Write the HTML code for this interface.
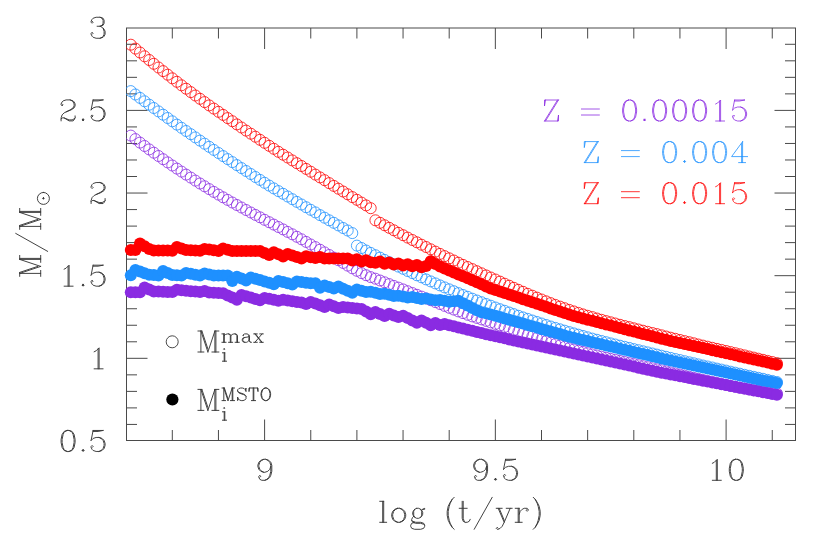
<!DOCTYPE html>
<html><head><meta charset="utf-8"><title>chart</title>
<style>
html,body{margin:0;padding:0;background:#fff;}
body{width:830px;height:550px;overflow:hidden;font-family:"Liberation Serif",serif;}
svg{display:block;}
text{font-family:"Liberation Serif",serif;}
</style></head><body>
<svg width="830" height="550" viewBox="0 0 830 550" role="img" aria-label="M/Msun versus log (t/yr) for Z = 0.00015, 0.004, 0.015">
<desc>Maximum initial mass (open circles) and main-sequence turn-off mass (filled circles) as a function of log (t/yr) for Z = 0.00015, Z = 0.004 and Z = 0.015. Axis labels: M/M(sun), log (t/yr).</desc>
<defs><clipPath id="fc"><rect x="126" y="28" width="670" height="413"/></clipPath></defs>
<rect width="830" height="550" fill="#fff"/>
<rect x="126.5" y="28.0" width="669.0" height="412.5" fill="none" stroke="#4a4a4a" stroke-width="1"/>
<path d="M172.3 440.5v-10.5M172.3 28.0v10.5 M218.45 440.5v-10.5M218.45 28.0v10.5 M264.6 440.5v-21M264.6 28.0v21 M310.75 440.5v-10.5M310.75 28.0v10.5 M356.9 440.5v-10.5M356.9 28.0v10.5 M403.05 440.5v-10.5M403.05 28.0v10.5 M449.2 440.5v-10.5M449.2 28.0v10.5 M495.35 440.5v-21M495.35 28.0v21 M541.5 440.5v-10.5M541.5 28.0v10.5 M587.65 440.5v-10.5M587.65 28.0v10.5 M633.8 440.5v-10.5M633.8 28.0v10.5 M679.95 440.5v-10.5M679.95 28.0v10.5 M726.1 440.5v-21M726.1 28.0v21 M772.25 440.5v-10.5M772.25 28.0v10.5 M126.5 424.43h10.5M795.5 424.43h-10.5 M126.5 407.9h10.5M795.5 407.9h-10.5 M126.5 391.38h10.5M795.5 391.38h-10.5 M126.5 374.85h10.5M795.5 374.85h-10.5 M126.5 358.32h21M795.5 358.32h-21 M126.5 341.79h10.5M795.5 341.79h-10.5 M126.5 325.26h10.5M795.5 325.26h-10.5 M126.5 308.74h10.5M795.5 308.74h-10.5 M126.5 292.21h10.5M795.5 292.21h-10.5 M126.5 275.68h21M795.5 275.68h-21 M126.5 259.15h10.5M795.5 259.15h-10.5 M126.5 242.62h10.5M795.5 242.62h-10.5 M126.5 226.1h10.5M795.5 226.1h-10.5 M126.5 209.57h10.5M795.5 209.57h-10.5 M126.5 193.04h21M795.5 193.04h-21 M126.5 176.51h10.5M795.5 176.51h-10.5 M126.5 159.98h10.5M795.5 159.98h-10.5 M126.5 143.46h10.5M795.5 143.46h-10.5 M126.5 126.93h10.5M795.5 126.93h-10.5 M126.5 110.4h21M795.5 110.4h-21 M126.5 93.87h10.5M795.5 93.87h-10.5 M126.5 77.34h10.5M795.5 77.34h-10.5 M126.5 60.82h10.5M795.5 60.82h-10.5 M126.5 44.29h10.5M795.5 44.29h-10.5" stroke="#4a4a4a" stroke-width="1" fill="none"/>
<g fill="none" stroke="#8a2be2" stroke-width="0.8" clip-path="url(#fc)"><circle cx="130.8" cy="135.6" r="5.5"/><circle cx="135.4" cy="139.1" r="5.5"/><circle cx="140.0" cy="142.6" r="5.5"/><circle cx="144.6" cy="146.0" r="5.5"/><circle cx="149.2" cy="149.4" r="5.5"/><circle cx="153.8" cy="152.7" r="5.5"/><circle cx="158.5" cy="156.0" r="5.5"/><circle cx="163.1" cy="159.2" r="5.5"/><circle cx="167.7" cy="162.4" r="5.5"/><circle cx="172.3" cy="165.5" r="5.5"/><circle cx="176.9" cy="168.6" r="5.5"/><circle cx="181.5" cy="171.6" r="5.5"/><circle cx="186.1" cy="174.6" r="5.5"/><circle cx="190.8" cy="177.6" r="5.5"/><circle cx="195.4" cy="180.6" r="5.5"/><circle cx="200.0" cy="183.5" r="5.5"/><circle cx="204.6" cy="186.3" r="5.5"/><circle cx="209.2" cy="189.1" r="5.5"/><circle cx="213.8" cy="191.9" r="5.5"/><circle cx="218.5" cy="194.6" r="5.5"/><circle cx="223.1" cy="197.3" r="5.5"/><circle cx="227.7" cy="199.9" r="5.5"/><circle cx="232.3" cy="202.5" r="5.5"/><circle cx="236.9" cy="205.0" r="5.5"/><circle cx="241.5" cy="207.5" r="5.5"/><circle cx="246.1" cy="210.0" r="5.5"/><circle cx="250.8" cy="212.5" r="5.5"/><circle cx="255.4" cy="214.9" r="5.5"/><circle cx="260.0" cy="217.3" r="5.5"/><circle cx="264.6" cy="219.8" r="5.5"/><circle cx="269.2" cy="222.2" r="5.5"/><circle cx="273.8" cy="224.6" r="5.5"/><circle cx="278.4" cy="227.0" r="5.5"/><circle cx="283.1" cy="229.4" r="5.5"/><circle cx="287.7" cy="231.9" r="5.5"/><circle cx="292.3" cy="234.3" r="5.5"/><circle cx="296.9" cy="236.8" r="5.5"/><circle cx="301.5" cy="239.3" r="5.5"/><circle cx="306.1" cy="241.9" r="5.5"/><circle cx="310.7" cy="244.5" r="5.5"/><circle cx="315.4" cy="247.1" r="5.5"/><circle cx="320.0" cy="249.7" r="5.5"/><circle cx="324.6" cy="252.4" r="5.5"/><circle cx="329.2" cy="255.0" r="5.5"/><circle cx="333.8" cy="257.6" r="5.5"/><circle cx="338.4" cy="260.2" r="5.5"/><circle cx="343.1" cy="262.9" r="5.5"/><circle cx="347.7" cy="265.6" r="5.5"/><circle cx="352.3" cy="268.3" r="5.5"/><circle cx="356.9" cy="270.8" r="5.5"/><circle cx="361.5" cy="273.1" r="5.5"/><circle cx="366.1" cy="275.2" r="5.5"/><circle cx="370.7" cy="277.1" r="5.5"/><circle cx="375.4" cy="278.7" r="5.5"/><circle cx="380.0" cy="280.5" r="5.5"/><circle cx="384.6" cy="282.3" r="5.5"/><circle cx="389.2" cy="284.1" r="5.5"/><circle cx="393.8" cy="285.9" r="5.5"/><circle cx="398.4" cy="287.6" r="5.5"/><circle cx="403.1" cy="289.4" r="5.5"/><circle cx="407.7" cy="291.2" r="5.5"/><circle cx="412.3" cy="293.0" r="5.5"/><circle cx="416.9" cy="294.8" r="5.5"/><circle cx="421.5" cy="296.6" r="5.5"/><circle cx="426.1" cy="298.4" r="5.5"/><circle cx="430.7" cy="300.2" r="5.5"/><circle cx="435.4" cy="302.1" r="5.5"/><circle cx="440.0" cy="304.0" r="5.5"/><circle cx="444.6" cy="305.9" r="5.5"/><circle cx="449.2" cy="307.8" r="5.5"/><circle cx="453.8" cy="309.6" r="5.5"/><circle cx="458.4" cy="311.4" r="5.5"/><circle cx="463.0" cy="313.1" r="5.5"/><circle cx="467.7" cy="314.8" r="5.5"/><circle cx="472.3" cy="316.4" r="5.5"/><circle cx="476.9" cy="317.9" r="5.5"/><circle cx="481.5" cy="319.4" r="5.5"/><circle cx="486.1" cy="320.9" r="5.5"/><circle cx="490.7" cy="322.4" r="5.5"/><circle cx="495.4" cy="323.9" r="5.5"/><circle cx="500.0" cy="325.4" r="5.5"/><circle cx="504.6" cy="326.9" r="5.5"/><circle cx="509.2" cy="328.5" r="5.5"/><circle cx="513.8" cy="330.1" r="5.5"/><circle cx="518.4" cy="331.7" r="5.5"/><circle cx="523.0" cy="333.3" r="5.5"/><circle cx="527.7" cy="334.9" r="5.5"/><circle cx="532.3" cy="336.5" r="5.5"/><circle cx="536.9" cy="338.1" r="5.5"/><circle cx="541.5" cy="339.6" r="5.5"/><circle cx="546.1" cy="341.2" r="5.5"/><circle cx="550.7" cy="342.7" r="5.5"/><circle cx="555.3" cy="344.1" r="5.5"/><circle cx="560.0" cy="345.5" r="5.5"/><circle cx="564.6" cy="346.9" r="5.5"/><circle cx="569.2" cy="348.3" r="5.5"/><circle cx="573.8" cy="349.5" r="5.5"/><circle cx="578.4" cy="350.8" r="5.5"/><circle cx="583.0" cy="352.0" r="5.5"/><circle cx="587.6" cy="353.2" r="5.5"/><circle cx="592.3" cy="354.4" r="5.5"/><circle cx="596.9" cy="355.5" r="5.5"/><circle cx="601.5" cy="356.7" r="5.5"/><circle cx="606.1" cy="357.8" r="5.5"/><circle cx="610.7" cy="358.9" r="5.5"/><circle cx="615.3" cy="359.9" r="5.5"/><circle cx="620.0" cy="361.0" r="5.5"/><circle cx="624.6" cy="362.0" r="5.5"/><circle cx="629.2" cy="363.1" r="5.5"/><circle cx="633.8" cy="364.1" r="5.5"/><circle cx="638.4" cy="365.2" r="5.5"/><circle cx="643.0" cy="366.2" r="5.5"/><circle cx="647.6" cy="367.2" r="5.5"/><circle cx="652.3" cy="368.3" r="5.5"/><circle cx="656.9" cy="369.3" r="5.5"/><circle cx="661.5" cy="370.3" r="5.5"/><circle cx="666.1" cy="371.4" r="5.5"/><circle cx="670.7" cy="372.5" r="5.5"/><circle cx="675.3" cy="373.5" r="5.5"/><circle cx="680.0" cy="374.6" r="5.5"/><circle cx="684.6" cy="375.7" r="5.5"/><circle cx="689.2" cy="376.8" r="5.5"/><circle cx="693.8" cy="377.9" r="5.5"/><circle cx="698.4" cy="378.9" r="5.5"/><circle cx="703.0" cy="380.0" r="5.5"/><circle cx="707.6" cy="381.0" r="5.5"/><circle cx="712.3" cy="382.0" r="5.5"/><circle cx="716.9" cy="383.1" r="5.5"/><circle cx="721.5" cy="384.0" r="5.5"/><circle cx="726.1" cy="385.0" r="5.5"/><circle cx="730.7" cy="385.9" r="5.5"/><circle cx="735.3" cy="386.9" r="5.5"/><circle cx="739.9" cy="387.7" r="5.5"/><circle cx="744.6" cy="388.6" r="5.5"/><circle cx="749.2" cy="389.4" r="5.5"/><circle cx="753.8" cy="390.2" r="5.5"/><circle cx="758.4" cy="390.9" r="5.5"/><circle cx="763.0" cy="391.6" r="5.5"/><circle cx="767.6" cy="392.2" r="5.5"/><circle cx="772.2" cy="392.8" r="5.5"/><circle cx="776.9" cy="393.3" r="5.5"/></g>
<g fill="#8a2be2" stroke="none" stroke-width="0"><circle cx="130.8" cy="292.2" r="6.0"/><circle cx="135.4" cy="292.2" r="6.0"/><circle cx="140.0" cy="292.2" r="6.0"/><circle cx="144.6" cy="287.6" r="6.0"/><circle cx="149.2" cy="289.5" r="6.0"/><circle cx="153.8" cy="291.4" r="6.0"/><circle cx="158.5" cy="291.6" r="6.0"/><circle cx="163.1" cy="291.8" r="6.0"/><circle cx="167.7" cy="291.9" r="6.0"/><circle cx="172.3" cy="292.1" r="6.0"/><circle cx="176.9" cy="289.8" r="6.0"/><circle cx="181.5" cy="290.2" r="6.0"/><circle cx="186.1" cy="290.7" r="6.0"/><circle cx="190.8" cy="291.2" r="6.0"/><circle cx="195.4" cy="291.6" r="6.0"/><circle cx="200.0" cy="292.1" r="6.0"/><circle cx="204.6" cy="291.1" r="6.0"/><circle cx="209.2" cy="292.6" r="6.0"/><circle cx="213.8" cy="292.8" r="6.0"/><circle cx="218.5" cy="293.0" r="6.0"/><circle cx="223.1" cy="293.2" r="6.0"/><circle cx="227.7" cy="295.4" r="6.0"/><circle cx="232.3" cy="297.5" r="6.0"/><circle cx="236.9" cy="299.7" r="6.0"/><circle cx="241.5" cy="294.9" r="6.0"/><circle cx="246.1" cy="296.2" r="6.0"/><circle cx="250.8" cy="297.6" r="6.0"/><circle cx="255.4" cy="299.0" r="6.0"/><circle cx="260.0" cy="300.3" r="6.0"/><circle cx="264.6" cy="297.9" r="6.0"/><circle cx="269.2" cy="298.8" r="6.0"/><circle cx="273.8" cy="299.8" r="6.0"/><circle cx="278.4" cy="300.8" r="6.0"/><circle cx="283.1" cy="299.7" r="6.0"/><circle cx="287.7" cy="300.4" r="6.0"/><circle cx="292.3" cy="301.2" r="6.0"/><circle cx="296.9" cy="301.9" r="6.0"/><circle cx="301.5" cy="302.6" r="6.0"/><circle cx="306.1" cy="304.0" r="6.0"/><circle cx="310.7" cy="301.9" r="6.0"/><circle cx="315.4" cy="303.6" r="6.0"/><circle cx="320.0" cy="305.2" r="6.0"/><circle cx="324.6" cy="306.9" r="6.0"/><circle cx="329.2" cy="304.6" r="6.0"/><circle cx="333.8" cy="306.3" r="6.0"/><circle cx="338.4" cy="308.1" r="6.0"/><circle cx="343.1" cy="307.0" r="6.0"/><circle cx="347.7" cy="307.5" r="6.0"/><circle cx="352.3" cy="308.0" r="6.0"/><circle cx="356.9" cy="308.4" r="6.0"/><circle cx="361.5" cy="308.9" r="6.0"/><circle cx="366.1" cy="311.5" r="6.0"/><circle cx="370.7" cy="314.2" r="6.0"/><circle cx="375.4" cy="311.9" r="6.0"/><circle cx="380.0" cy="313.9" r="6.0"/><circle cx="384.6" cy="316.0" r="6.0"/><circle cx="389.2" cy="313.7" r="6.0"/><circle cx="393.8" cy="315.4" r="6.0"/><circle cx="398.4" cy="317.1" r="6.0"/><circle cx="403.1" cy="315.7" r="6.0"/><circle cx="407.7" cy="318.0" r="6.0"/><circle cx="412.3" cy="320.4" r="6.0"/><circle cx="416.9" cy="322.8" r="6.0"/><circle cx="421.5" cy="320.4" r="6.0"/><circle cx="426.1" cy="322.8" r="6.0"/><circle cx="430.7" cy="325.2" r="6.0"/><circle cx="435.4" cy="322.9" r="6.0"/><circle cx="440.0" cy="324.9" r="6.0"/><circle cx="444.6" cy="324.1" r="6.0"/><circle cx="449.2" cy="325.2" r="6.0"/><circle cx="453.8" cy="326.3" r="6.0"/><circle cx="458.4" cy="327.5" r="6.0"/><circle cx="463.0" cy="328.6" r="6.0"/><circle cx="467.7" cy="329.7" r="6.0"/><circle cx="472.3" cy="330.8" r="6.0"/><circle cx="476.9" cy="332.0" r="6.0"/><circle cx="481.5" cy="333.1" r="6.0"/><circle cx="486.1" cy="334.2" r="6.0"/><circle cx="490.7" cy="335.3" r="6.0"/><circle cx="495.4" cy="336.3" r="6.0"/><circle cx="500.0" cy="337.3" r="6.0"/><circle cx="504.6" cy="338.3" r="6.0"/><circle cx="509.2" cy="339.4" r="6.0"/><circle cx="513.8" cy="340.4" r="6.0"/><circle cx="518.4" cy="341.4" r="6.0"/><circle cx="523.0" cy="342.4" r="6.0"/><circle cx="527.7" cy="343.4" r="6.0"/><circle cx="532.3" cy="344.4" r="6.0"/><circle cx="536.9" cy="345.4" r="6.0"/><circle cx="541.5" cy="346.4" r="6.0"/><circle cx="546.1" cy="347.4" r="6.0"/><circle cx="550.7" cy="348.4" r="6.0"/><circle cx="555.3" cy="349.4" r="6.0"/><circle cx="560.0" cy="350.4" r="6.0"/><circle cx="564.6" cy="351.4" r="6.0"/><circle cx="569.2" cy="352.4" r="6.0"/><circle cx="573.8" cy="353.4" r="6.0"/><circle cx="578.4" cy="354.5" r="6.0"/><circle cx="583.0" cy="355.5" r="6.0"/><circle cx="587.6" cy="356.5" r="6.0"/><circle cx="592.3" cy="357.5" r="6.0"/><circle cx="596.9" cy="358.5" r="6.0"/><circle cx="601.5" cy="359.5" r="6.0"/><circle cx="606.1" cy="360.5" r="6.0"/><circle cx="610.7" cy="361.6" r="6.0"/><circle cx="615.3" cy="362.6" r="6.0"/><circle cx="620.0" cy="363.6" r="6.0"/><circle cx="624.6" cy="364.6" r="6.0"/><circle cx="629.2" cy="365.6" r="6.0"/><circle cx="633.8" cy="366.6" r="6.0"/><circle cx="638.4" cy="367.7" r="6.0"/><circle cx="643.0" cy="368.7" r="6.0"/><circle cx="647.6" cy="369.7" r="6.0"/><circle cx="652.3" cy="370.7" r="6.0"/><circle cx="656.9" cy="371.7" r="6.0"/><circle cx="661.5" cy="372.7" r="6.0"/><circle cx="666.1" cy="373.6" r="6.0"/><circle cx="670.7" cy="374.5" r="6.0"/><circle cx="675.3" cy="375.3" r="6.0"/><circle cx="680.0" cy="376.2" r="6.0"/><circle cx="684.6" cy="377.1" r="6.0"/><circle cx="689.2" cy="378.0" r="6.0"/><circle cx="693.8" cy="378.9" r="6.0"/><circle cx="698.4" cy="379.8" r="6.0"/><circle cx="703.0" cy="380.7" r="6.0"/><circle cx="707.6" cy="381.5" r="6.0"/><circle cx="712.3" cy="382.4" r="6.0"/><circle cx="716.9" cy="383.3" r="6.0"/><circle cx="721.5" cy="384.2" r="6.0"/><circle cx="726.1" cy="385.1" r="6.0"/><circle cx="730.7" cy="386.0" r="6.0"/><circle cx="735.3" cy="386.8" r="6.0"/><circle cx="739.9" cy="387.7" r="6.0"/><circle cx="744.6" cy="388.6" r="6.0"/><circle cx="749.2" cy="389.5" r="6.0"/><circle cx="753.8" cy="390.4" r="6.0"/><circle cx="758.4" cy="391.3" r="6.0"/><circle cx="763.0" cy="392.2" r="6.0"/><circle cx="767.6" cy="393.0" r="6.0"/><circle cx="772.2" cy="393.9" r="6.0"/><circle cx="776.9" cy="394.8" r="6.0"/></g>
<g fill="none" stroke="#1e90ff" stroke-width="0.8" clip-path="url(#fc)"><circle cx="130.8" cy="91.1" r="5.5"/><circle cx="135.4" cy="94.5" r="5.5"/><circle cx="140.0" cy="97.9" r="5.5"/><circle cx="144.6" cy="101.3" r="5.5"/><circle cx="149.2" cy="104.7" r="5.5"/><circle cx="153.8" cy="108.0" r="5.5"/><circle cx="158.5" cy="111.4" r="5.5"/><circle cx="163.1" cy="114.7" r="5.5"/><circle cx="167.7" cy="118.0" r="5.5"/><circle cx="172.3" cy="121.3" r="5.5"/><circle cx="176.9" cy="124.6" r="5.5"/><circle cx="181.5" cy="127.8" r="5.5"/><circle cx="186.1" cy="131.0" r="5.5"/><circle cx="190.8" cy="134.2" r="5.5"/><circle cx="195.4" cy="137.4" r="5.5"/><circle cx="200.0" cy="140.6" r="5.5"/><circle cx="204.6" cy="143.7" r="5.5"/><circle cx="209.2" cy="146.8" r="5.5"/><circle cx="213.8" cy="149.9" r="5.5"/><circle cx="218.5" cy="153.0" r="5.5"/><circle cx="223.1" cy="156.1" r="5.5"/><circle cx="227.7" cy="159.1" r="5.5"/><circle cx="232.3" cy="162.1" r="5.5"/><circle cx="236.9" cy="165.1" r="5.5"/><circle cx="241.5" cy="168.1" r="5.5"/><circle cx="246.1" cy="171.0" r="5.5"/><circle cx="250.8" cy="174.0" r="5.5"/><circle cx="255.4" cy="177.0" r="5.5"/><circle cx="260.0" cy="179.9" r="5.5"/><circle cx="264.6" cy="182.8" r="5.5"/><circle cx="269.2" cy="185.6" r="5.5"/><circle cx="273.8" cy="188.4" r="5.5"/><circle cx="278.4" cy="191.1" r="5.5"/><circle cx="283.1" cy="193.8" r="5.5"/><circle cx="287.7" cy="196.5" r="5.5"/><circle cx="292.3" cy="199.2" r="5.5"/><circle cx="296.9" cy="201.9" r="5.5"/><circle cx="301.5" cy="204.5" r="5.5"/><circle cx="306.1" cy="207.2" r="5.5"/><circle cx="310.7" cy="209.8" r="5.5"/><circle cx="315.4" cy="212.4" r="5.5"/><circle cx="320.0" cy="215.1" r="5.5"/><circle cx="324.6" cy="217.7" r="5.5"/><circle cx="329.2" cy="220.3" r="5.5"/><circle cx="333.8" cy="222.8" r="5.5"/><circle cx="338.4" cy="225.4" r="5.5"/><circle cx="343.1" cy="228.0" r="5.5"/><circle cx="347.7" cy="230.5" r="5.5"/><circle cx="352.3" cy="233.1" r="5.5"/><circle cx="356.9" cy="245.6" r="5.5"/><circle cx="361.5" cy="248.0" r="5.5"/><circle cx="366.1" cy="250.5" r="5.5"/><circle cx="370.7" cy="252.9" r="5.5"/><circle cx="375.4" cy="255.2" r="5.5"/><circle cx="380.0" cy="257.6" r="5.5"/><circle cx="384.6" cy="259.9" r="5.5"/><circle cx="389.2" cy="262.2" r="5.5"/><circle cx="393.8" cy="264.4" r="5.5"/><circle cx="398.4" cy="266.6" r="5.5"/><circle cx="403.1" cy="268.8" r="5.5"/><circle cx="407.7" cy="271.0" r="5.5"/><circle cx="412.3" cy="273.1" r="5.5"/><circle cx="416.9" cy="275.3" r="5.5"/><circle cx="421.5" cy="277.3" r="5.5"/><circle cx="426.1" cy="279.4" r="5.5"/><circle cx="430.7" cy="281.4" r="5.5"/><circle cx="435.4" cy="283.4" r="5.5"/><circle cx="440.0" cy="285.4" r="5.5"/><circle cx="444.6" cy="287.4" r="5.5"/><circle cx="449.2" cy="289.3" r="5.5"/><circle cx="453.8" cy="291.2" r="5.5"/><circle cx="458.4" cy="293.1" r="5.5"/><circle cx="463.0" cy="295.0" r="5.5"/><circle cx="467.7" cy="296.8" r="5.5"/><circle cx="472.3" cy="298.7" r="5.5"/><circle cx="476.9" cy="300.5" r="5.5"/><circle cx="481.5" cy="302.2" r="5.5"/><circle cx="486.1" cy="304.0" r="5.5"/><circle cx="490.7" cy="305.7" r="5.5"/><circle cx="495.4" cy="307.5" r="5.5"/><circle cx="500.0" cy="309.2" r="5.5"/><circle cx="504.6" cy="310.8" r="5.5"/><circle cx="509.2" cy="312.5" r="5.5"/><circle cx="513.8" cy="314.1" r="5.5"/><circle cx="518.4" cy="315.8" r="5.5"/><circle cx="523.0" cy="317.4" r="5.5"/><circle cx="527.7" cy="318.9" r="5.5"/><circle cx="532.3" cy="320.5" r="5.5"/><circle cx="536.9" cy="322.0" r="5.5"/><circle cx="541.5" cy="323.5" r="5.5"/><circle cx="546.1" cy="325.0" r="5.5"/><circle cx="550.7" cy="326.5" r="5.5"/><circle cx="555.3" cy="327.9" r="5.5"/><circle cx="560.0" cy="329.3" r="5.5"/><circle cx="564.6" cy="330.7" r="5.5"/><circle cx="569.2" cy="332.1" r="5.5"/><circle cx="573.8" cy="333.4" r="5.5"/><circle cx="578.4" cy="334.7" r="5.5"/><circle cx="583.0" cy="336.0" r="5.5"/><circle cx="587.6" cy="337.3" r="5.5"/><circle cx="592.3" cy="338.6" r="5.5"/><circle cx="596.9" cy="339.8" r="5.5"/><circle cx="601.5" cy="341.0" r="5.5"/><circle cx="606.1" cy="342.2" r="5.5"/><circle cx="610.7" cy="343.4" r="5.5"/><circle cx="615.3" cy="344.5" r="5.5"/><circle cx="620.0" cy="345.7" r="5.5"/><circle cx="624.6" cy="346.8" r="5.5"/><circle cx="629.2" cy="347.9" r="5.5"/><circle cx="633.8" cy="349.1" r="5.5"/><circle cx="638.4" cy="350.2" r="5.5"/><circle cx="643.0" cy="351.3" r="5.5"/><circle cx="647.6" cy="352.4" r="5.5"/><circle cx="652.3" cy="353.5" r="5.5"/><circle cx="656.9" cy="354.6" r="5.5"/><circle cx="661.5" cy="355.7" r="5.5"/><circle cx="666.1" cy="356.8" r="5.5"/><circle cx="670.7" cy="357.9" r="5.5"/><circle cx="675.3" cy="359.0" r="5.5"/><circle cx="680.0" cy="360.1" r="5.5"/><circle cx="684.6" cy="361.2" r="5.5"/><circle cx="689.2" cy="362.3" r="5.5"/><circle cx="693.8" cy="363.3" r="5.5"/><circle cx="698.4" cy="364.4" r="5.5"/><circle cx="703.0" cy="365.5" r="5.5"/><circle cx="707.6" cy="366.5" r="5.5"/><circle cx="712.3" cy="367.5" r="5.5"/><circle cx="716.9" cy="368.6" r="5.5"/><circle cx="721.5" cy="369.6" r="5.5"/><circle cx="726.1" cy="370.6" r="5.5"/><circle cx="730.7" cy="371.7" r="5.5"/><circle cx="735.3" cy="372.7" r="5.5"/><circle cx="739.9" cy="373.7" r="5.5"/><circle cx="744.6" cy="374.8" r="5.5"/><circle cx="749.2" cy="375.8" r="5.5"/><circle cx="753.8" cy="376.8" r="5.5"/><circle cx="758.4" cy="377.8" r="5.5"/><circle cx="763.0" cy="378.8" r="5.5"/><circle cx="767.6" cy="379.9" r="5.5"/><circle cx="772.2" cy="380.9" r="5.5"/><circle cx="776.9" cy="382.0" r="5.5"/></g>
<g fill="#1e90ff" stroke="none" stroke-width="0"><circle cx="130.8" cy="275.2" r="6.0"/><circle cx="135.4" cy="270.0" r="6.0"/><circle cx="140.0" cy="271.6" r="6.0"/><circle cx="144.6" cy="273.2" r="6.0"/><circle cx="149.2" cy="274.8" r="6.0"/><circle cx="153.8" cy="275.1" r="6.0"/><circle cx="158.5" cy="275.4" r="6.0"/><circle cx="163.1" cy="271.1" r="6.0"/><circle cx="167.7" cy="273.1" r="6.0"/><circle cx="172.3" cy="275.1" r="6.0"/><circle cx="176.9" cy="275.3" r="6.0"/><circle cx="181.5" cy="275.6" r="6.0"/><circle cx="186.1" cy="273.0" r="6.0"/><circle cx="190.8" cy="273.8" r="6.0"/><circle cx="195.4" cy="274.7" r="6.0"/><circle cx="200.0" cy="275.6" r="6.0"/><circle cx="204.6" cy="273.6" r="6.0"/><circle cx="209.2" cy="274.6" r="6.0"/><circle cx="213.8" cy="275.6" r="6.0"/><circle cx="218.5" cy="275.6" r="6.0"/><circle cx="223.1" cy="275.6" r="6.0"/><circle cx="227.7" cy="275.6" r="6.0"/><circle cx="232.3" cy="280.9" r="6.0"/><circle cx="236.9" cy="276.7" r="6.0"/><circle cx="241.5" cy="278.6" r="6.0"/><circle cx="246.1" cy="280.5" r="6.0"/><circle cx="250.8" cy="277.4" r="6.0"/><circle cx="255.4" cy="278.8" r="6.0"/><circle cx="260.0" cy="280.1" r="6.0"/><circle cx="264.6" cy="281.5" r="6.0"/><circle cx="269.2" cy="282.8" r="6.0"/><circle cx="273.8" cy="284.2" r="6.0"/><circle cx="278.4" cy="280.9" r="6.0"/><circle cx="283.1" cy="282.1" r="6.0"/><circle cx="287.7" cy="283.3" r="6.0"/><circle cx="292.3" cy="284.5" r="6.0"/><circle cx="296.9" cy="281.5" r="6.0"/><circle cx="301.5" cy="282.1" r="6.0"/><circle cx="306.1" cy="282.7" r="6.0"/><circle cx="310.7" cy="283.3" r="6.0"/><circle cx="315.4" cy="283.3" r="6.0"/><circle cx="320.0" cy="287.8" r="6.0"/><circle cx="324.6" cy="285.4" r="6.0"/><circle cx="329.2" cy="287.0" r="6.0"/><circle cx="333.8" cy="288.6" r="6.0"/><circle cx="338.4" cy="286.6" r="6.0"/><circle cx="343.1" cy="288.7" r="6.0"/><circle cx="347.7" cy="290.7" r="6.0"/><circle cx="352.3" cy="292.7" r="6.0"/><circle cx="356.9" cy="289.6" r="6.0"/><circle cx="361.5" cy="290.7" r="6.0"/><circle cx="366.1" cy="291.9" r="6.0"/><circle cx="370.7" cy="291.7" r="6.0"/><circle cx="375.4" cy="292.8" r="6.0"/><circle cx="380.0" cy="293.9" r="6.0"/><circle cx="384.6" cy="293.7" r="6.0"/><circle cx="389.2" cy="294.8" r="6.0"/><circle cx="393.8" cy="295.9" r="6.0"/><circle cx="398.4" cy="295.7" r="6.0"/><circle cx="403.1" cy="296.6" r="6.0"/><circle cx="407.7" cy="297.5" r="6.0"/><circle cx="412.3" cy="297.1" r="6.0"/><circle cx="416.9" cy="298.0" r="6.0"/><circle cx="421.5" cy="298.9" r="6.0"/><circle cx="426.1" cy="298.5" r="6.0"/><circle cx="430.7" cy="299.4" r="6.0"/><circle cx="435.4" cy="300.3" r="6.0"/><circle cx="440.0" cy="299.9" r="6.0"/><circle cx="444.6" cy="300.8" r="6.0"/><circle cx="449.2" cy="301.7" r="6.0"/><circle cx="453.8" cy="301.3" r="6.0"/><circle cx="458.4" cy="300.8" r="6.0"/><circle cx="463.0" cy="303.2" r="6.0"/><circle cx="467.7" cy="305.6" r="6.0"/><circle cx="472.3" cy="307.9" r="6.0"/><circle cx="476.9" cy="310.3" r="6.0"/><circle cx="481.5" cy="312.2" r="6.0"/><circle cx="486.1" cy="313.3" r="6.0"/><circle cx="490.7" cy="314.4" r="6.0"/><circle cx="495.4" cy="315.8" r="6.0"/><circle cx="500.0" cy="317.1" r="6.0"/><circle cx="504.6" cy="318.4" r="6.0"/><circle cx="509.2" cy="319.7" r="6.0"/><circle cx="513.8" cy="321.0" r="6.0"/><circle cx="518.4" cy="322.3" r="6.0"/><circle cx="523.0" cy="323.6" r="6.0"/><circle cx="527.7" cy="324.9" r="6.0"/><circle cx="532.3" cy="326.2" r="6.0"/><circle cx="536.9" cy="327.5" r="6.0"/><circle cx="541.5" cy="328.9" r="6.0"/><circle cx="546.1" cy="330.2" r="6.0"/><circle cx="550.7" cy="331.5" r="6.0"/><circle cx="555.3" cy="332.8" r="6.0"/><circle cx="560.0" cy="334.1" r="6.0"/><circle cx="564.6" cy="335.4" r="6.0"/><circle cx="569.2" cy="336.7" r="6.0"/><circle cx="573.8" cy="337.8" r="6.0"/><circle cx="578.4" cy="338.9" r="6.0"/><circle cx="583.0" cy="340.0" r="6.0"/><circle cx="587.6" cy="341.1" r="6.0"/><circle cx="592.3" cy="342.2" r="6.0"/><circle cx="596.9" cy="343.2" r="6.0"/><circle cx="601.5" cy="344.3" r="6.0"/><circle cx="606.1" cy="345.4" r="6.0"/><circle cx="610.7" cy="346.5" r="6.0"/><circle cx="615.3" cy="347.6" r="6.0"/><circle cx="620.0" cy="348.7" r="6.0"/><circle cx="624.6" cy="349.7" r="6.0"/><circle cx="629.2" cy="350.8" r="6.0"/><circle cx="633.8" cy="351.9" r="6.0"/><circle cx="638.4" cy="353.0" r="6.0"/><circle cx="643.0" cy="354.1" r="6.0"/><circle cx="647.6" cy="355.1" r="6.0"/><circle cx="652.3" cy="356.2" r="6.0"/><circle cx="656.9" cy="357.3" r="6.0"/><circle cx="661.5" cy="358.4" r="6.0"/><circle cx="666.1" cy="359.5" r="6.0"/><circle cx="670.7" cy="360.5" r="6.0"/><circle cx="675.3" cy="361.5" r="6.0"/><circle cx="680.0" cy="362.5" r="6.0"/><circle cx="684.6" cy="363.5" r="6.0"/><circle cx="689.2" cy="364.5" r="6.0"/><circle cx="693.8" cy="365.5" r="6.0"/><circle cx="698.4" cy="366.5" r="6.0"/><circle cx="703.0" cy="367.5" r="6.0"/><circle cx="707.6" cy="368.5" r="6.0"/><circle cx="712.3" cy="369.5" r="6.0"/><circle cx="716.9" cy="370.6" r="6.0"/><circle cx="721.5" cy="371.6" r="6.0"/><circle cx="726.1" cy="372.6" r="6.0"/><circle cx="730.7" cy="373.6" r="6.0"/><circle cx="735.3" cy="374.6" r="6.0"/><circle cx="739.9" cy="375.6" r="6.0"/><circle cx="744.6" cy="376.6" r="6.0"/><circle cx="749.2" cy="377.6" r="6.0"/><circle cx="753.8" cy="378.6" r="6.0"/><circle cx="758.4" cy="379.6" r="6.0"/><circle cx="763.0" cy="380.5" r="6.0"/><circle cx="767.6" cy="381.3" r="6.0"/><circle cx="772.2" cy="382.1" r="6.0"/><circle cx="776.9" cy="382.9" r="6.0"/></g>
<g fill="none" stroke="#ff0000" stroke-width="0.8" clip-path="url(#fc)"><circle cx="130.8" cy="44.7" r="5.5"/><circle cx="135.4" cy="48.6" r="5.5"/><circle cx="140.0" cy="52.5" r="5.5"/><circle cx="144.6" cy="56.3" r="5.5"/><circle cx="149.2" cy="60.0" r="5.5"/><circle cx="153.8" cy="63.8" r="5.5"/><circle cx="158.5" cy="67.5" r="5.5"/><circle cx="163.1" cy="71.1" r="5.5"/><circle cx="167.7" cy="74.7" r="5.5"/><circle cx="172.3" cy="78.3" r="5.5"/><circle cx="176.9" cy="81.8" r="5.5"/><circle cx="181.5" cy="85.3" r="5.5"/><circle cx="186.1" cy="88.7" r="5.5"/><circle cx="190.8" cy="92.1" r="5.5"/><circle cx="195.4" cy="95.5" r="5.5"/><circle cx="200.0" cy="98.8" r="5.5"/><circle cx="204.6" cy="102.1" r="5.5"/><circle cx="209.2" cy="105.4" r="5.5"/><circle cx="213.8" cy="108.6" r="5.5"/><circle cx="218.5" cy="111.8" r="5.5"/><circle cx="223.1" cy="114.9" r="5.5"/><circle cx="227.7" cy="118.1" r="5.5"/><circle cx="232.3" cy="121.2" r="5.5"/><circle cx="236.9" cy="124.4" r="5.5"/><circle cx="241.5" cy="127.5" r="5.5"/><circle cx="246.1" cy="130.6" r="5.5"/><circle cx="250.8" cy="133.7" r="5.5"/><circle cx="255.4" cy="136.7" r="5.5"/><circle cx="260.0" cy="139.8" r="5.5"/><circle cx="264.6" cy="142.8" r="5.5"/><circle cx="269.2" cy="145.8" r="5.5"/><circle cx="273.8" cy="148.8" r="5.5"/><circle cx="278.4" cy="151.8" r="5.5"/><circle cx="283.1" cy="154.7" r="5.5"/><circle cx="287.7" cy="157.5" r="5.5"/><circle cx="292.3" cy="160.4" r="5.5"/><circle cx="296.9" cy="163.2" r="5.5"/><circle cx="301.5" cy="166.0" r="5.5"/><circle cx="306.1" cy="168.9" r="5.5"/><circle cx="310.7" cy="171.7" r="5.5"/><circle cx="315.4" cy="174.6" r="5.5"/><circle cx="320.0" cy="177.4" r="5.5"/><circle cx="324.6" cy="180.2" r="5.5"/><circle cx="329.2" cy="183.1" r="5.5"/><circle cx="333.8" cy="185.9" r="5.5"/><circle cx="338.4" cy="188.7" r="5.5"/><circle cx="343.1" cy="191.5" r="5.5"/><circle cx="347.7" cy="194.3" r="5.5"/><circle cx="352.3" cy="197.1" r="5.5"/><circle cx="356.9" cy="199.8" r="5.5"/><circle cx="361.5" cy="202.6" r="5.5"/><circle cx="366.1" cy="205.4" r="5.5"/><circle cx="370.7" cy="208.2" r="5.5"/><circle cx="375.4" cy="220.3" r="5.5"/><circle cx="380.0" cy="222.8" r="5.5"/><circle cx="384.6" cy="225.3" r="5.5"/><circle cx="389.2" cy="227.8" r="5.5"/><circle cx="393.8" cy="230.3" r="5.5"/><circle cx="398.4" cy="232.8" r="5.5"/><circle cx="403.1" cy="235.2" r="5.5"/><circle cx="407.7" cy="237.6" r="5.5"/><circle cx="412.3" cy="240.0" r="5.5"/><circle cx="416.9" cy="242.3" r="5.5"/><circle cx="421.5" cy="244.7" r="5.5"/><circle cx="426.1" cy="247.0" r="5.5"/><circle cx="430.7" cy="249.3" r="5.5"/><circle cx="435.4" cy="251.6" r="5.5"/><circle cx="440.0" cy="253.9" r="5.5"/><circle cx="444.6" cy="256.1" r="5.5"/><circle cx="449.2" cy="258.3" r="5.5"/><circle cx="453.8" cy="260.5" r="5.5"/><circle cx="458.4" cy="262.7" r="5.5"/><circle cx="463.0" cy="264.9" r="5.5"/><circle cx="467.7" cy="267.0" r="5.5"/><circle cx="472.3" cy="269.1" r="5.5"/><circle cx="476.9" cy="271.2" r="5.5"/><circle cx="481.5" cy="273.3" r="5.5"/><circle cx="486.1" cy="275.4" r="5.5"/><circle cx="490.7" cy="277.5" r="5.5"/><circle cx="495.4" cy="279.5" r="5.5"/><circle cx="500.0" cy="281.6" r="5.5"/><circle cx="504.6" cy="283.7" r="5.5"/><circle cx="509.2" cy="285.7" r="5.5"/><circle cx="513.8" cy="287.8" r="5.5"/><circle cx="518.4" cy="289.8" r="5.5"/><circle cx="523.0" cy="291.8" r="5.5"/><circle cx="527.7" cy="293.8" r="5.5"/><circle cx="532.3" cy="295.7" r="5.5"/><circle cx="536.9" cy="297.6" r="5.5"/><circle cx="541.5" cy="299.5" r="5.5"/><circle cx="546.1" cy="301.3" r="5.5"/><circle cx="550.7" cy="303.1" r="5.5"/><circle cx="555.3" cy="304.9" r="5.5"/><circle cx="560.0" cy="306.6" r="5.5"/><circle cx="564.6" cy="308.2" r="5.5"/><circle cx="569.2" cy="309.9" r="5.5"/><circle cx="573.8" cy="311.4" r="5.5"/><circle cx="578.4" cy="312.9" r="5.5"/><circle cx="583.0" cy="314.4" r="5.5"/><circle cx="587.6" cy="315.8" r="5.5"/><circle cx="592.3" cy="317.1" r="5.5"/><circle cx="596.9" cy="318.5" r="5.5"/><circle cx="601.5" cy="319.8" r="5.5"/><circle cx="606.1" cy="321.1" r="5.5"/><circle cx="610.7" cy="322.3" r="5.5"/><circle cx="615.3" cy="323.5" r="5.5"/><circle cx="620.0" cy="324.8" r="5.5"/><circle cx="624.6" cy="326.0" r="5.5"/><circle cx="629.2" cy="327.1" r="5.5"/><circle cx="633.8" cy="328.3" r="5.5"/><circle cx="638.4" cy="329.5" r="5.5"/><circle cx="643.0" cy="330.7" r="5.5"/><circle cx="647.6" cy="331.8" r="5.5"/><circle cx="652.3" cy="333.0" r="5.5"/><circle cx="656.9" cy="334.1" r="5.5"/><circle cx="661.5" cy="335.3" r="5.5"/><circle cx="666.1" cy="336.5" r="5.5"/><circle cx="670.7" cy="337.7" r="5.5"/><circle cx="675.3" cy="338.8" r="5.5"/><circle cx="680.0" cy="340.0" r="5.5"/><circle cx="684.6" cy="341.1" r="5.5"/><circle cx="689.2" cy="342.2" r="5.5"/><circle cx="693.8" cy="343.3" r="5.5"/><circle cx="698.4" cy="344.5" r="5.5"/><circle cx="703.0" cy="345.6" r="5.5"/><circle cx="707.6" cy="346.7" r="5.5"/><circle cx="712.3" cy="347.8" r="5.5"/><circle cx="716.9" cy="348.9" r="5.5"/><circle cx="721.5" cy="349.9" r="5.5"/><circle cx="726.1" cy="351.0" r="5.5"/><circle cx="730.7" cy="352.1" r="5.5"/><circle cx="735.3" cy="353.2" r="5.5"/><circle cx="739.9" cy="354.3" r="5.5"/><circle cx="744.6" cy="355.4" r="5.5"/><circle cx="749.2" cy="356.5" r="5.5"/><circle cx="753.8" cy="357.6" r="5.5"/><circle cx="758.4" cy="358.7" r="5.5"/><circle cx="763.0" cy="359.8" r="5.5"/><circle cx="767.6" cy="360.9" r="5.5"/><circle cx="772.2" cy="362.0" r="5.5"/><circle cx="776.9" cy="363.2" r="5.5"/></g>
<g fill="#ff0000" stroke="none" stroke-width="0"><circle cx="130.8" cy="249.9" r="6.0"/><circle cx="135.4" cy="249.9" r="6.0"/><circle cx="140.0" cy="243.4" r="6.0"/><circle cx="144.6" cy="246.2" r="6.0"/><circle cx="149.2" cy="249.0" r="6.0"/><circle cx="153.8" cy="250.4" r="6.0"/><circle cx="158.5" cy="250.4" r="6.0"/><circle cx="163.1" cy="250.5" r="6.0"/><circle cx="167.7" cy="250.6" r="6.0"/><circle cx="172.3" cy="250.7" r="6.0"/><circle cx="176.9" cy="247.1" r="6.0"/><circle cx="181.5" cy="248.6" r="6.0"/><circle cx="186.1" cy="250.0" r="6.0"/><circle cx="190.8" cy="250.3" r="6.0"/><circle cx="195.4" cy="250.5" r="6.0"/><circle cx="200.0" cy="250.7" r="6.0"/><circle cx="204.6" cy="248.9" r="6.0"/><circle cx="209.2" cy="249.5" r="6.0"/><circle cx="213.8" cy="250.2" r="6.0"/><circle cx="218.5" cy="250.9" r="6.0"/><circle cx="223.1" cy="248.6" r="6.0"/><circle cx="227.7" cy="249.7" r="6.0"/><circle cx="232.3" cy="250.9" r="6.0"/><circle cx="236.9" cy="250.9" r="6.0"/><circle cx="241.5" cy="250.9" r="6.0"/><circle cx="246.1" cy="250.9" r="6.0"/><circle cx="250.8" cy="250.9" r="6.0"/><circle cx="255.4" cy="250.9" r="6.0"/><circle cx="260.0" cy="250.9" r="6.0"/><circle cx="264.6" cy="252.9" r="6.0"/><circle cx="269.2" cy="255.0" r="6.0"/><circle cx="273.8" cy="252.2" r="6.0"/><circle cx="278.4" cy="254.3" r="6.0"/><circle cx="283.1" cy="256.5" r="6.0"/><circle cx="287.7" cy="254.0" r="6.0"/><circle cx="292.3" cy="255.5" r="6.0"/><circle cx="296.9" cy="257.1" r="6.0"/><circle cx="301.5" cy="258.6" r="6.0"/><circle cx="306.1" cy="256.3" r="6.0"/><circle cx="310.7" cy="257.2" r="6.0"/><circle cx="315.4" cy="258.1" r="6.0"/><circle cx="320.0" cy="257.1" r="6.0"/><circle cx="324.6" cy="258.6" r="6.0"/><circle cx="329.2" cy="258.6" r="6.0"/><circle cx="333.8" cy="258.5" r="6.0"/><circle cx="338.4" cy="258.5" r="6.0"/><circle cx="343.1" cy="258.5" r="6.0"/><circle cx="347.7" cy="258.4" r="6.0"/><circle cx="352.3" cy="260.5" r="6.0"/><circle cx="356.9" cy="259.3" r="6.0"/><circle cx="361.5" cy="261.4" r="6.0"/><circle cx="366.1" cy="260.2" r="6.0"/><circle cx="370.7" cy="262.3" r="6.0"/><circle cx="375.4" cy="262.8" r="6.0"/><circle cx="380.0" cy="261.6" r="6.0"/><circle cx="384.6" cy="263.7" r="6.0"/><circle cx="389.2" cy="262.5" r="6.0"/><circle cx="393.8" cy="264.6" r="6.0"/><circle cx="398.4" cy="263.4" r="6.0"/><circle cx="403.1" cy="265.5" r="6.0"/><circle cx="407.7" cy="264.2" r="6.0"/><circle cx="412.3" cy="266.3" r="6.0"/><circle cx="416.9" cy="265.1" r="6.0"/><circle cx="421.5" cy="267.2" r="6.0"/><circle cx="426.1" cy="266.0" r="6.0"/><circle cx="430.7" cy="261.2" r="6.0"/><circle cx="435.4" cy="263.9" r="6.0"/><circle cx="440.0" cy="266.5" r="6.0"/><circle cx="444.6" cy="268.5" r="6.0"/><circle cx="449.2" cy="270.4" r="6.0"/><circle cx="453.8" cy="272.4" r="6.0"/><circle cx="458.4" cy="274.4" r="6.0"/><circle cx="463.0" cy="276.3" r="6.0"/><circle cx="467.7" cy="278.3" r="6.0"/><circle cx="472.3" cy="280.2" r="6.0"/><circle cx="476.9" cy="282.2" r="6.0"/><circle cx="481.5" cy="284.2" r="6.0"/><circle cx="486.1" cy="286.4" r="6.0"/><circle cx="490.7" cy="288.4" r="6.0"/><circle cx="495.4" cy="290.0" r="6.0"/><circle cx="500.0" cy="291.5" r="6.0"/><circle cx="504.6" cy="293.0" r="6.0"/><circle cx="509.2" cy="294.6" r="6.0"/><circle cx="513.8" cy="296.1" r="6.0"/><circle cx="518.4" cy="297.6" r="6.0"/><circle cx="523.0" cy="299.2" r="6.0"/><circle cx="527.7" cy="300.7" r="6.0"/><circle cx="532.3" cy="302.2" r="6.0"/><circle cx="536.9" cy="303.8" r="6.0"/><circle cx="541.5" cy="305.3" r="6.0"/><circle cx="546.1" cy="306.8" r="6.0"/><circle cx="550.7" cy="308.4" r="6.0"/><circle cx="555.3" cy="309.9" r="6.0"/><circle cx="560.0" cy="311.4" r="6.0"/><circle cx="564.6" cy="313.0" r="6.0"/><circle cx="569.2" cy="314.5" r="6.0"/><circle cx="573.8" cy="316.0" r="6.0"/><circle cx="578.4" cy="317.3" r="6.0"/><circle cx="583.0" cy="318.5" r="6.0"/><circle cx="587.6" cy="319.7" r="6.0"/><circle cx="592.3" cy="320.8" r="6.0"/><circle cx="596.9" cy="322.0" r="6.0"/><circle cx="601.5" cy="323.2" r="6.0"/><circle cx="606.1" cy="324.4" r="6.0"/><circle cx="610.7" cy="325.6" r="6.0"/><circle cx="615.3" cy="326.8" r="6.0"/><circle cx="620.0" cy="328.0" r="6.0"/><circle cx="624.6" cy="329.2" r="6.0"/><circle cx="629.2" cy="330.4" r="6.0"/><circle cx="633.8" cy="331.5" r="6.0"/><circle cx="638.4" cy="332.7" r="6.0"/><circle cx="643.0" cy="333.9" r="6.0"/><circle cx="647.6" cy="335.1" r="6.0"/><circle cx="652.3" cy="336.3" r="6.0"/><circle cx="656.9" cy="337.5" r="6.0"/><circle cx="661.5" cy="338.7" r="6.0"/><circle cx="666.1" cy="339.8" r="6.0"/><circle cx="670.7" cy="340.9" r="6.0"/><circle cx="675.3" cy="341.9" r="6.0"/><circle cx="680.0" cy="342.9" r="6.0"/><circle cx="684.6" cy="344.0" r="6.0"/><circle cx="689.2" cy="345.0" r="6.0"/><circle cx="693.8" cy="346.0" r="6.0"/><circle cx="698.4" cy="347.1" r="6.0"/><circle cx="703.0" cy="348.1" r="6.0"/><circle cx="707.6" cy="349.1" r="6.0"/><circle cx="712.3" cy="350.2" r="6.0"/><circle cx="716.9" cy="351.2" r="6.0"/><circle cx="721.5" cy="352.2" r="6.0"/><circle cx="726.1" cy="353.3" r="6.0"/><circle cx="730.7" cy="354.3" r="6.0"/><circle cx="735.3" cy="355.3" r="6.0"/><circle cx="739.9" cy="356.4" r="6.0"/><circle cx="744.6" cy="357.4" r="6.0"/><circle cx="749.2" cy="358.4" r="6.0"/><circle cx="753.8" cy="359.5" r="6.0"/><circle cx="758.4" cy="360.5" r="6.0"/><circle cx="763.0" cy="361.6" r="6.0"/><circle cx="767.6" cy="362.6" r="6.0"/><circle cx="772.2" cy="363.7" r="6.0"/><circle cx="776.9" cy="364.8" r="6.0"/></g>
<path d="M92.10 21.26L93.10 22.26L92.10 23.26L91.10 22.26L91.10 21.26L92.10 19.26L93.10 18.26L96.10 17.26L100.10 17.26L103.10 18.26L104.10 20.26L104.10 23.26L103.10 25.26L100.10 26.26L97.10 26.26M100.10 17.26L102.10 18.26L103.10 20.26L103.10 23.26L102.10 25.26L100.10 26.26M100.10 26.26L102.10 27.26L104.10 29.26L105.10 31.26L105.10 34.26L104.10 36.26L103.10 37.26L100.10 38.26L96.10 38.26L93.10 37.26L92.10 36.26L91.10 34.26L91.10 33.26L92.10 32.26L93.10 33.26L92.10 34.26M103.10 28.26L104.10 31.26L104.10 34.26L103.10 36.26L102.10 37.26L100.10 38.26M62.10 103.90L63.10 104.90L62.10 105.90L61.10 104.90L61.10 103.90L62.10 101.90L63.10 100.90L66.10 99.90L70.10 99.90L73.10 100.90L74.10 101.90L75.10 103.90L75.10 105.90L74.10 107.90L71.10 109.90L66.10 111.90L64.10 112.90L62.10 114.90L61.10 117.90L61.10 120.90M70.10 99.90L72.10 100.90L73.10 101.90L74.10 103.90L74.10 105.90L73.10 107.90L70.10 109.90L66.10 111.90M61.10 118.90L62.10 117.90L64.10 117.90L69.10 119.90L72.10 119.90L74.10 118.90L75.10 117.90M64.10 117.90L69.10 120.90L73.10 120.90L74.10 119.90L75.10 117.90L75.10 115.90M83.10 118.90L82.10 119.90L83.10 120.90L84.10 119.90L83.10 118.90M82.60 119.90A0.50 0.50 0 1 0 83.60 119.90A0.50 0.50 0 1 0 82.60 119.90ZM93.10 99.90L91.10 109.90M91.10 109.90L93.10 107.90L96.10 106.90L99.10 106.90L102.10 107.90L104.10 109.90L105.10 112.90L105.10 114.90L104.10 117.90L102.10 119.90L99.10 120.90L96.10 120.90L93.10 119.90L92.10 118.90L91.10 116.90L91.10 115.90L92.10 114.90L93.10 115.90L92.10 116.90M99.10 106.90L101.10 107.90L103.10 109.90L104.10 112.90L104.10 114.90L103.10 117.90L101.10 119.90L99.10 120.90M93.10 99.90L103.10 99.90M93.10 100.90L98.10 100.90L103.10 99.90M92.10 186.54L93.10 187.54L92.10 188.54L91.10 187.54L91.10 186.54L92.10 184.54L93.10 183.54L96.10 182.54L100.10 182.54L103.10 183.54L104.10 184.54L105.10 186.54L105.10 188.54L104.10 190.54L101.10 192.54L96.10 194.54L94.10 195.54L92.10 197.54L91.10 200.54L91.10 203.54M100.10 182.54L102.10 183.54L103.10 184.54L104.10 186.54L104.10 188.54L103.10 190.54L100.10 192.54L96.10 194.54M91.10 201.54L92.10 200.54L94.10 200.54L99.10 202.54L102.10 202.54L104.10 201.54L105.10 200.54M94.10 200.54L99.10 203.54L103.10 203.54L104.10 202.54L105.10 200.54L105.10 198.54M64.10 269.18L66.10 268.18L69.10 265.18L69.10 286.18M68.10 266.18L68.10 286.18M64.10 286.18L73.10 286.18M83.10 284.18L82.10 285.18L83.10 286.18L84.10 285.18L83.10 284.18M82.60 285.18A0.50 0.50 0 1 0 83.60 285.18A0.50 0.50 0 1 0 82.60 285.18ZM93.10 265.18L91.10 275.18M91.10 275.18L93.10 273.18L96.10 272.18L99.10 272.18L102.10 273.18L104.10 275.18L105.10 278.18L105.10 280.18L104.10 283.18L102.10 285.18L99.10 286.18L96.10 286.18L93.10 285.18L92.10 284.18L91.10 282.18L91.10 281.18L92.10 280.18L93.10 281.18L92.10 282.18M99.10 272.18L101.10 273.18L103.10 275.18L104.10 278.18L104.10 280.18L103.10 283.18L101.10 285.18L99.10 286.18M93.10 265.18L103.10 265.18M93.10 266.18L98.10 266.18L103.10 265.18M94.10 351.82L96.10 350.82L99.10 347.82L99.10 368.82M98.10 348.82L98.10 368.82M94.10 368.82L103.10 368.82M67.10 430.46L64.10 431.46L62.10 434.46L61.10 439.46L61.10 442.46L62.10 447.46L64.10 450.46L67.10 451.46L69.10 451.46L72.10 450.46L74.10 447.46L75.10 442.46L75.10 439.46L74.10 434.46L72.10 431.46L69.10 430.46L67.10 430.46M67.10 430.46L65.10 431.46L64.10 432.46L63.10 434.46L62.10 439.46L62.10 442.46L63.10 447.46L64.10 449.46L65.10 450.46L67.10 451.46M69.10 451.46L71.10 450.46L72.10 449.46L73.10 447.46L74.10 442.46L74.10 439.46L73.10 434.46L72.10 432.46L71.10 431.46L69.10 430.46M83.10 449.46L82.10 450.46L83.10 451.46L84.10 450.46L83.10 449.46M82.60 450.46A0.50 0.50 0 1 0 83.60 450.46A0.50 0.50 0 1 0 82.60 450.46ZM93.10 430.46L91.10 440.46M91.10 440.46L93.10 438.46L96.10 437.46L99.10 437.46L102.10 438.46L104.10 440.46L105.10 443.46L105.10 445.46L104.10 448.46L102.10 450.46L99.10 451.46L96.10 451.46L93.10 450.46L92.10 449.46L91.10 447.46L91.10 446.46L92.10 445.46L93.10 446.46L92.10 447.46M99.10 437.46L101.10 438.46L103.10 440.46L104.10 443.46L104.10 445.46L103.10 448.46L101.10 450.46L99.10 451.46M93.10 430.46L103.10 430.46M93.10 431.46L98.10 431.46L103.10 430.46M270.80 466.30L269.80 469.30L267.80 471.30L264.80 472.30L263.80 472.30L260.80 471.30L258.80 469.30L257.80 466.30L257.80 465.30L258.80 462.30L260.80 460.30L263.80 459.30L265.80 459.30L268.80 460.30L270.80 462.30L271.80 465.30L271.80 471.30L270.80 475.30L269.80 477.30L267.80 479.30L264.80 480.30L261.80 480.30L259.80 479.30L258.80 477.30L258.80 476.30L259.80 475.30L260.80 476.30L259.80 477.30M263.80 472.30L261.80 471.30L259.80 469.30L258.80 466.30L258.80 465.30L259.80 462.30L261.80 460.30L263.80 459.30M265.80 459.30L267.80 460.30L269.80 462.30L270.80 465.30L270.80 471.30L269.80 475.30L268.80 477.30L266.80 479.30L264.80 480.30M486.55 466.30L485.55 469.30L483.55 471.30L480.55 472.30L479.55 472.30L476.55 471.30L474.55 469.30L473.55 466.30L473.55 465.30L474.55 462.30L476.55 460.30L479.55 459.30L481.55 459.30L484.55 460.30L486.55 462.30L487.55 465.30L487.55 471.30L486.55 475.30L485.55 477.30L483.55 479.30L480.55 480.30L477.55 480.30L475.55 479.30L474.55 477.30L474.55 476.30L475.55 475.30L476.55 476.30L475.55 477.30M479.55 472.30L477.55 471.30L475.55 469.30L474.55 466.30L474.55 465.30L475.55 462.30L477.55 460.30L479.55 459.30M481.55 459.30L483.55 460.30L485.55 462.30L486.55 465.30L486.55 471.30L485.55 475.30L484.55 477.30L482.55 479.30L480.55 480.30M495.55 478.30L494.55 479.30L495.55 480.30L496.55 479.30L495.55 478.30M495.05 479.30A0.50 0.50 0 1 0 496.05 479.30A0.50 0.50 0 1 0 495.05 479.30ZM505.55 459.30L503.55 469.30M503.55 469.30L505.55 467.30L508.55 466.30L511.55 466.30L514.55 467.30L516.55 469.30L517.55 472.30L517.55 474.30L516.55 477.30L514.55 479.30L511.55 480.30L508.55 480.30L505.55 479.30L504.55 478.30L503.55 476.30L503.55 475.30L504.55 474.30L505.55 475.30L504.55 476.30M511.55 466.30L513.55 467.30L515.55 469.30L516.55 472.30L516.55 474.30L515.55 477.30L513.55 479.30L511.55 480.30M505.55 459.30L515.55 459.30M505.55 460.30L510.55 460.30L515.55 459.30M712.30 463.30L714.30 462.30L717.30 459.30L717.30 480.30M716.30 460.30L716.30 480.30M712.30 480.30L721.30 480.30M735.30 459.30L732.30 460.30L730.30 463.30L729.30 468.30L729.30 471.30L730.30 476.30L732.30 479.30L735.30 480.30L737.30 480.30L740.30 479.30L742.30 476.30L743.30 471.30L743.30 468.30L742.30 463.30L740.30 460.30L737.30 459.30L735.30 459.30M735.30 459.30L733.30 460.30L732.30 461.30L731.30 463.30L730.30 468.30L730.30 471.30L731.30 476.30L732.30 478.30L733.30 479.30L735.30 480.30M737.30 480.30L739.30 479.30L740.30 478.30L741.30 476.30L742.30 471.30L742.30 468.30L741.30 463.30L740.30 461.30L739.30 460.30L737.30 459.30M382.70 501.30L382.70 522.30M383.70 501.30L383.70 522.30M379.70 501.30L383.70 501.30M379.70 522.30L386.70 522.30M397.70 508.30L394.70 509.30L392.70 511.30L391.70 514.30L391.70 516.30L392.70 519.30L394.70 521.30L397.70 522.30L399.70 522.30L402.70 521.30L404.70 519.30L405.70 516.30L405.70 514.30L404.70 511.30L402.70 509.30L399.70 508.30L397.70 508.30M397.70 508.30L395.70 509.30L393.70 511.30L392.70 514.30L392.70 516.30L393.70 519.30L395.70 521.30L397.70 522.30M399.70 522.30L401.70 521.30L403.70 519.30L404.70 516.30L404.70 514.30L403.70 511.30L401.70 509.30L399.70 508.30M416.70 508.30L414.70 509.30L413.70 510.30L412.70 512.30L412.70 514.30L413.70 516.30L414.70 517.30L416.70 518.30L418.70 518.30L420.70 517.30L421.70 516.30L422.70 514.30L422.70 512.30L421.70 510.30L420.70 509.30L418.70 508.30L416.70 508.30M414.70 509.30L413.70 511.30L413.70 515.30L414.70 517.30M420.70 517.30L421.70 515.30L421.70 511.30L420.70 509.30M421.70 510.30L422.70 509.30L424.70 508.30L424.70 509.30L422.70 509.30M413.70 516.30L412.70 517.30L411.70 519.30L411.70 520.30L412.70 522.30L415.70 523.30L420.70 523.30L423.70 524.30L424.70 525.30M411.70 520.30L412.70 521.30L415.70 522.30L420.70 522.30L423.70 523.30L424.70 525.30L424.70 526.30L423.70 528.30L420.70 529.30L414.70 529.30L411.70 528.30L410.70 526.30L410.70 525.30L411.70 523.30L414.70 522.30M454.20 497.30L452.20 499.30L450.20 502.30L448.20 506.30L447.20 511.30L447.20 515.30L448.20 520.30L450.20 524.30L452.20 527.30L454.20 529.30M452.20 499.30L450.20 503.30L449.20 506.30L448.20 511.30L448.20 515.30L449.20 520.30L450.20 523.30L452.20 527.30M462.20 501.30L462.20 518.30L463.20 521.30L465.20 522.30L467.20 522.30L469.20 521.30L470.20 519.30M463.20 501.30L463.20 518.30L464.20 521.30L465.20 522.30M459.20 508.30L467.20 508.30M492.20 497.30L474.20 529.30M498.20 508.30L504.20 522.30M499.20 508.30L504.20 520.30M510.20 508.30L504.20 522.30L502.20 526.30L500.20 528.30L498.20 529.30L497.20 529.30L496.20 528.30L497.20 527.30L498.20 528.30M496.20 508.30L502.20 508.30M506.20 508.30L512.20 508.30M518.20 508.30L518.20 522.30M519.20 508.30L519.20 522.30M519.20 514.30L520.20 511.30L522.20 509.30L524.20 508.30L527.20 508.30L528.20 509.30L528.20 510.30L527.20 511.30L526.20 510.30L527.20 509.30M515.20 508.30L519.20 508.30M515.20 522.30L522.20 522.30M533.20 497.30L535.20 499.30L537.20 502.30L539.20 506.30L540.20 511.30L540.20 515.30L539.20 520.30L537.20 524.30L535.20 527.30L533.20 529.30M535.20 499.30L537.20 503.30L538.20 506.30L539.20 511.30L539.20 515.30L538.20 520.30L537.20 523.30L535.20 527.30M200.90 331.00L200.90 352.00M201.90 331.00L207.90 349.00M200.90 331.00L207.90 352.00M214.90 331.00L207.90 352.00M214.90 331.00L214.90 352.00M215.90 331.00L215.90 352.00M197.90 331.00L201.90 331.00M214.90 331.00L218.90 331.00M197.90 352.00L203.90 352.00M211.90 352.00L218.90 352.00M200.90 389.40L200.90 410.40M201.90 389.40L207.90 407.40M200.90 389.40L207.90 410.40M214.90 389.40L207.90 410.40M214.90 389.40L214.90 410.40M215.90 389.40L215.90 410.40M197.90 389.40L201.90 389.40M214.90 389.40L218.90 389.40M197.90 410.40L203.90 410.40M211.90 410.40L218.90 410.40M223.70 333.90L223.70 342.30M224.30 333.90L224.30 342.30M224.30 335.70L225.50 334.50L227.30 333.90L228.50 333.90L230.30 334.50L230.90 335.70L230.90 342.30M228.50 333.90L229.70 334.50L230.30 335.70L230.30 342.30M230.90 335.70L232.10 334.50L233.90 333.90L235.10 333.90L236.90 334.50L237.50 335.70L237.50 342.30M235.10 333.90L236.30 334.50L236.90 335.70L236.90 342.30M221.90 333.90L224.30 333.90M221.90 342.30L226.10 342.30M228.50 342.30L232.70 342.30M235.10 342.30L239.30 342.30M243.50 335.10L243.50 335.70L242.90 335.70L242.90 335.10L243.50 334.50L244.70 333.90L247.10 333.90L248.30 334.50L248.90 335.10L249.50 336.30L249.50 340.50L250.10 341.70L250.70 342.30M248.90 335.10L248.90 340.50L249.50 341.70L250.70 342.30L251.30 342.30M248.90 336.30L248.30 336.90L244.70 337.50L242.90 338.10L242.30 339.30L242.30 340.50L242.90 341.70L244.70 342.30L246.50 342.30L247.70 341.70L248.90 340.50M244.70 337.50L243.50 338.10L242.90 339.30L242.90 340.50L243.50 341.70L244.70 342.30M254.90 333.90L261.50 342.30M255.50 333.90L262.10 342.30M262.10 333.90L254.90 342.30M253.70 333.90L257.30 333.90M259.70 333.90L263.30 333.90M253.70 342.30L257.30 342.30M259.70 342.30L263.30 342.30M223.80 388.00L223.80 400.60M224.40 388.00L228.00 398.80M223.80 388.00L228.00 400.60M232.20 388.00L228.00 400.60M232.20 388.00L232.20 400.60M232.80 388.00L232.80 400.60M222.00 388.00L224.40 388.00M232.20 388.00L234.60 388.00M222.00 400.60L225.60 400.60M230.40 400.60L234.60 400.60M245.40 389.80L246.00 388.00L246.00 391.60L245.40 389.80L244.20 388.60L242.40 388.00L240.60 388.00L238.80 388.60L237.60 389.80L237.60 391.00L238.20 392.20L238.80 392.80L240.00 393.40L243.60 394.60L244.80 395.20L246.00 396.40M237.60 391.00L238.80 392.20L240.00 392.80L243.60 394.00L244.80 394.60L245.40 395.20L246.00 396.40L246.00 398.80L244.80 400.00L243.00 400.60L241.20 400.60L239.40 400.00L238.20 398.80L237.60 397.00L237.60 400.60L238.20 398.80M253.20 388.00L253.20 400.60M253.80 388.00L253.80 400.60M249.60 388.00L249.00 391.60L249.00 388.00L258.00 388.00L258.00 391.60L257.40 388.00M251.40 400.60L255.60 400.60M265.20 388.00L263.40 388.60L262.20 389.80L261.60 391.00L261.00 393.40L261.00 395.20L261.60 397.60L262.20 398.80L263.40 400.00L265.20 400.60L266.40 400.60L268.20 400.00L269.40 398.80L270.00 397.60L270.60 395.20L270.60 393.40L270.00 391.00L269.40 389.80L268.20 388.60L266.40 388.00L265.20 388.00M265.20 388.00L264.00 388.60L262.80 389.80L262.20 391.00L261.60 393.40L261.60 395.20L262.20 397.60L262.80 398.80L264.00 400.00L265.20 400.60M266.40 400.60L267.60 400.00L268.80 398.80L269.40 397.60L270.00 395.20L270.00 393.40L269.40 391.00L268.80 389.80L267.60 388.60L266.40 388.00M224.20 348.60L223.60 349.20L224.20 349.80L224.80 349.20L224.20 348.60M224.20 352.80L224.20 361.20M224.80 352.80L224.80 361.20M222.40 352.80L224.80 352.80M222.40 361.20L226.60 361.20M224.20 407.60L223.60 408.20L224.20 408.80L224.80 408.20L224.20 407.60M224.20 411.80L224.20 420.20M224.80 411.80L224.80 420.20M222.40 411.80L224.80 411.80M222.40 420.20L226.60 420.20" fill="none" stroke="#383838" stroke-width="0.95" stroke-linecap="round" stroke-linejoin="round"/>
<g transform="translate(40.7 278.4) rotate(-90)" fill="none" stroke="#383838" stroke-width="0.95" stroke-linecap="round" stroke-linejoin="round"><path d="M5.00 -21.00L5.00 0.00M6.00 -21.00L12.00 -3.00M5.00 -21.00L12.00 0.00M19.00 -21.00L12.00 0.00M19.00 -21.00L19.00 0.00M20.00 -21.00L20.00 0.00M2.00 -21.00L6.00 -21.00M19.00 -21.00L23.00 -21.00M2.00 0.00L8.00 0.00M16.00 0.00L23.00 0.00M45.00 -25.00L27.00 7.00M52.00 -21.00L52.00 0.00M53.00 -21.00L59.00 -3.00M52.00 -21.00L59.00 0.00M66.00 -21.00L59.00 0.00M66.00 -21.00L66.00 0.00M67.00 -21.00L67.00 0.00M49.00 -21.00L53.00 -21.00M66.00 -21.00L70.00 -21.00M49.00 0.00L55.00 0.00M63.00 0.00L70.00 0.00"/><circle cx="80" cy="2.7" r="6"/><circle cx="80" cy="2.7" r="0.7" fill="#383838"/></g>
<path d="M557.50 100.00L544.50 121.00M558.50 100.00L545.50 121.00M545.50 100.00L544.50 106.00L544.50 100.00L558.50 100.00M544.50 121.00L558.50 121.00L558.50 115.00L557.50 121.00M581.40 109.00L599.40 109.00M581.40 115.00L599.40 115.00M628.60 100.00L625.60 101.00L623.60 104.00L622.60 109.00L622.60 112.00L623.60 117.00L625.60 120.00L628.60 121.00L630.60 121.00L633.60 120.00L635.60 117.00L636.60 112.00L636.60 109.00L635.60 104.00L633.60 101.00L630.60 100.00L628.60 100.00M628.60 100.00L626.60 101.00L625.60 102.00L624.60 104.00L623.60 109.00L623.60 112.00L624.60 117.00L625.60 119.00L626.60 120.00L628.60 121.00M630.60 121.00L632.60 120.00L633.60 119.00L634.60 117.00L635.60 112.00L635.60 109.00L634.60 104.00L633.60 102.00L632.60 101.00L630.60 100.00M644.60 119.00L643.60 120.00L644.60 121.00L645.60 120.00L644.60 119.00M644.10 120.00A0.50 0.50 0 1 0 645.10 120.00A0.50 0.50 0 1 0 644.10 120.00ZM658.60 100.00L655.60 101.00L653.60 104.00L652.60 109.00L652.60 112.00L653.60 117.00L655.60 120.00L658.60 121.00L660.60 121.00L663.60 120.00L665.60 117.00L666.60 112.00L666.60 109.00L665.60 104.00L663.60 101.00L660.60 100.00L658.60 100.00M658.60 100.00L656.60 101.00L655.60 102.00L654.60 104.00L653.60 109.00L653.60 112.00L654.60 117.00L655.60 119.00L656.60 120.00L658.60 121.00M660.60 121.00L662.60 120.00L663.60 119.00L664.60 117.00L665.60 112.00L665.60 109.00L664.60 104.00L663.60 102.00L662.60 101.00L660.60 100.00M678.60 100.00L675.60 101.00L673.60 104.00L672.60 109.00L672.60 112.00L673.60 117.00L675.60 120.00L678.60 121.00L680.60 121.00L683.60 120.00L685.60 117.00L686.60 112.00L686.60 109.00L685.60 104.00L683.60 101.00L680.60 100.00L678.60 100.00M678.60 100.00L676.60 101.00L675.60 102.00L674.60 104.00L673.60 109.00L673.60 112.00L674.60 117.00L675.60 119.00L676.60 120.00L678.60 121.00M680.60 121.00L682.60 120.00L683.60 119.00L684.60 117.00L685.60 112.00L685.60 109.00L684.60 104.00L683.60 102.00L682.60 101.00L680.60 100.00M698.60 100.00L695.60 101.00L693.60 104.00L692.60 109.00L692.60 112.00L693.60 117.00L695.60 120.00L698.60 121.00L700.60 121.00L703.60 120.00L705.60 117.00L706.60 112.00L706.60 109.00L705.60 104.00L703.60 101.00L700.60 100.00L698.60 100.00M698.60 100.00L696.60 101.00L695.60 102.00L694.60 104.00L693.60 109.00L693.60 112.00L694.60 117.00L695.60 119.00L696.60 120.00L698.60 121.00M700.60 121.00L702.60 120.00L703.60 119.00L704.60 117.00L705.60 112.00L705.60 109.00L704.60 104.00L703.60 102.00L702.60 101.00L700.60 100.00M715.60 104.00L717.60 103.00L720.60 100.00L720.60 121.00M719.60 101.00L719.60 121.00M715.60 121.00L724.60 121.00M734.60 100.00L732.60 110.00M732.60 110.00L734.60 108.00L737.60 107.00L740.60 107.00L743.60 108.00L745.60 110.00L746.60 113.00L746.60 115.00L745.60 118.00L743.60 120.00L740.60 121.00L737.60 121.00L734.60 120.00L733.60 119.00L732.60 117.00L732.60 116.00L733.60 115.00L734.60 116.00L733.60 117.00M740.60 107.00L742.60 108.00L744.60 110.00L745.60 113.00L745.60 115.00L744.60 118.00L742.60 120.00L740.60 121.00M734.60 100.00L744.60 100.00M734.60 101.00L739.60 101.00L744.60 100.00"  fill="none" stroke="#8a2be2" stroke-width="0.8" stroke-linecap="round" stroke-linejoin="round"/>
<path d="M597.30 141.60L584.30 162.60M598.30 141.60L585.30 162.60M585.30 141.60L584.30 147.60L584.30 141.60L598.30 141.60M584.30 162.60L598.30 162.60L598.30 156.60L597.30 162.60M621.40 150.60L639.40 150.60M621.40 156.60L639.40 156.60M668.60 141.60L665.60 142.60L663.60 145.60L662.60 150.60L662.60 153.60L663.60 158.60L665.60 161.60L668.60 162.60L670.60 162.60L673.60 161.60L675.60 158.60L676.60 153.60L676.60 150.60L675.60 145.60L673.60 142.60L670.60 141.60L668.60 141.60M668.60 141.60L666.60 142.60L665.60 143.60L664.60 145.60L663.60 150.60L663.60 153.60L664.60 158.60L665.60 160.60L666.60 161.60L668.60 162.60M670.60 162.60L672.60 161.60L673.60 160.60L674.60 158.60L675.60 153.60L675.60 150.60L674.60 145.60L673.60 143.60L672.60 142.60L670.60 141.60M684.60 160.60L683.60 161.60L684.60 162.60L685.60 161.60L684.60 160.60M684.10 161.60A0.50 0.50 0 1 0 685.10 161.60A0.50 0.50 0 1 0 684.10 161.60ZM698.60 141.60L695.60 142.60L693.60 145.60L692.60 150.60L692.60 153.60L693.60 158.60L695.60 161.60L698.60 162.60L700.60 162.60L703.60 161.60L705.60 158.60L706.60 153.60L706.60 150.60L705.60 145.60L703.60 142.60L700.60 141.60L698.60 141.60M698.60 141.60L696.60 142.60L695.60 143.60L694.60 145.60L693.60 150.60L693.60 153.60L694.60 158.60L695.60 160.60L696.60 161.60L698.60 162.60M700.60 162.60L702.60 161.60L703.60 160.60L704.60 158.60L705.60 153.60L705.60 150.60L704.60 145.60L703.60 143.60L702.60 142.60L700.60 141.60M718.60 141.60L715.60 142.60L713.60 145.60L712.60 150.60L712.60 153.60L713.60 158.60L715.60 161.60L718.60 162.60L720.60 162.60L723.60 161.60L725.60 158.60L726.60 153.60L726.60 150.60L725.60 145.60L723.60 142.60L720.60 141.60L718.60 141.60M718.60 141.60L716.60 142.60L715.60 143.60L714.60 145.60L713.60 150.60L713.60 153.60L714.60 158.60L715.60 160.60L716.60 161.60L718.60 162.60M720.60 162.60L722.60 161.60L723.60 160.60L724.60 158.60L725.60 153.60L725.60 150.60L724.60 145.60L723.60 143.60L722.60 142.60L720.60 141.60M741.60 143.60L741.60 162.60M742.60 141.60L742.60 162.60M742.60 141.60L731.60 156.60L747.60 156.60M738.60 162.60L745.60 162.60"  fill="none" stroke="#1e90ff" stroke-width="0.8" stroke-linecap="round" stroke-linejoin="round"/>
<path d="M597.30 182.70L584.30 203.70M598.30 182.70L585.30 203.70M585.30 182.70L584.30 188.70L584.30 182.70L598.30 182.70M584.30 203.70L598.30 203.70L598.30 197.70L597.30 203.70M621.40 191.70L639.40 191.70M621.40 197.70L639.40 197.70M668.60 182.70L665.60 183.70L663.60 186.70L662.60 191.70L662.60 194.70L663.60 199.70L665.60 202.70L668.60 203.70L670.60 203.70L673.60 202.70L675.60 199.70L676.60 194.70L676.60 191.70L675.60 186.70L673.60 183.70L670.60 182.70L668.60 182.70M668.60 182.70L666.60 183.70L665.60 184.70L664.60 186.70L663.60 191.70L663.60 194.70L664.60 199.70L665.60 201.70L666.60 202.70L668.60 203.70M670.60 203.70L672.60 202.70L673.60 201.70L674.60 199.70L675.60 194.70L675.60 191.70L674.60 186.70L673.60 184.70L672.60 183.70L670.60 182.70M684.60 201.70L683.60 202.70L684.60 203.70L685.60 202.70L684.60 201.70M684.10 202.70A0.50 0.50 0 1 0 685.10 202.70A0.50 0.50 0 1 0 684.10 202.70ZM698.60 182.70L695.60 183.70L693.60 186.70L692.60 191.70L692.60 194.70L693.60 199.70L695.60 202.70L698.60 203.70L700.60 203.70L703.60 202.70L705.60 199.70L706.60 194.70L706.60 191.70L705.60 186.70L703.60 183.70L700.60 182.70L698.60 182.70M698.60 182.70L696.60 183.70L695.60 184.70L694.60 186.70L693.60 191.70L693.60 194.70L694.60 199.70L695.60 201.70L696.60 202.70L698.60 203.70M700.60 203.70L702.60 202.70L703.60 201.70L704.60 199.70L705.60 194.70L705.60 191.70L704.60 186.70L703.60 184.70L702.60 183.70L700.60 182.70M715.60 186.70L717.60 185.70L720.60 182.70L720.60 203.70M719.60 183.70L719.60 203.70M715.60 203.70L724.60 203.70M734.60 182.70L732.60 192.70M732.60 192.70L734.60 190.70L737.60 189.70L740.60 189.70L743.60 190.70L745.60 192.70L746.60 195.70L746.60 197.70L745.60 200.70L743.60 202.70L740.60 203.70L737.60 203.70L734.60 202.70L733.60 201.70L732.60 199.70L732.60 198.70L733.60 197.70L734.60 198.70L733.60 199.70M740.60 189.70L742.60 190.70L744.60 192.70L745.60 195.70L745.60 197.70L744.60 200.70L742.60 202.70L740.60 203.70M734.60 182.70L744.60 182.70M734.60 183.70L739.60 183.70L744.60 182.70"  fill="none" stroke="#ff0000" stroke-width="0.8" stroke-linecap="round" stroke-linejoin="round"/>
<circle cx="172.2" cy="341.8" r="6.0" fill="none" stroke="#2a2a2a" stroke-width="0.85"/>
<circle cx="172.4" cy="399.5" r="6.1" fill="#000"/>
</svg>
</body></html>
